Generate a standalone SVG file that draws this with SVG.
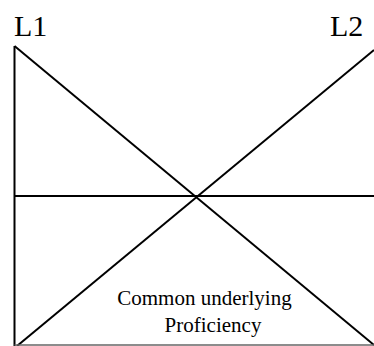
<svg xmlns="http://www.w3.org/2000/svg" width="374" height="346" viewBox="0 0 374 346">
<style>
.ln{stroke:#000;stroke-width:2;fill:none}
.t{font-family:"Liberation Serif","Times New Roman",serif;fill:#000}
</style>
<rect width="374" height="346" fill="#fff"/>
<g id="connectors">
<line class="ln" x1="14.5" y1="46" x2="14.5" y2="346"/>
<line class="ln" x1="14.5" y1="46" x2="374" y2="345"/>
<line class="ln" x1="17" y1="346" x2="374" y2="50"/>
<line class="ln" x1="14.5" y1="196" x2="374" y2="196"/>
<line x1="14.5" y1="345" x2="374" y2="345" stroke="#666" stroke-width="1.5"/>
</g>
<g id="L1"><text class="t" x="14" y="36" font-size="30">L1</text></g>
<g id="L2"><text class="t" x="330" y="36" font-size="30">L2</text></g>
<g id="cup">
<text class="t" x="204.5" y="305" font-size="21" text-anchor="middle">Common underlying</text>
<text class="t" x="213" y="332" font-size="21" text-anchor="middle">Proficiency</text>
</g>
</svg>
